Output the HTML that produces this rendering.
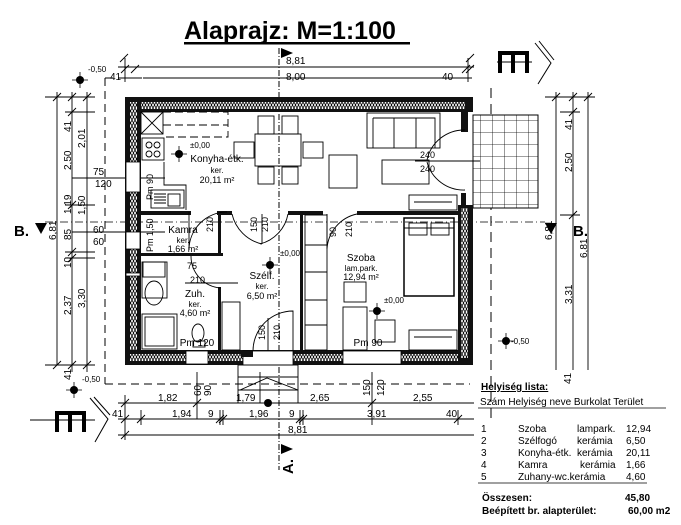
<!DOCTYPE html>
<html><head><meta charset="utf-8"><style>
html,body{margin:0;padding:0;background:#fff;width:681px;height:525px;overflow:hidden}
svg{display:block}
text{font-family:"Liberation Sans",sans-serif;fill:#000}
.s{font-size:10px}.xs{font-size:8px}
</style></head><body>
<svg width="681" height="525" viewBox="0 0 681 525" xmlns="http://www.w3.org/2000/svg">
<defs>
<pattern id="zz" width="6" height="6" patternUnits="userSpaceOnUse"><rect width="6" height="6" fill="#fff"/><path d="M0 0L3 6L6 0M0 6L3 0L6 6" stroke="#000" stroke-width="0.8" fill="none"/></pattern>
<pattern id="tile" width="12" height="12" patternUnits="userSpaceOnUse"><rect width="12" height="12" fill="#fff"/><path d="M0 0H12M0 0V12" stroke="#000" stroke-width="0.8"/></pattern>
</defs>
<text x="184" y="39" font-size="25" font-weight="bold">Alaprajz: M=1:100</text>
<rect x="184" y="42" width="226" height="2.5" fill="#000"/>
<path d="M279 48V470" stroke="#000" stroke-width="1" stroke-dasharray="6,2,1,2"/>
<path d="M281 48l12 5-12 5z" fill="#000"/>
<path d="M281 444l12 5-12 5z" fill="#000"/>
<text transform="translate(293 474) rotate(-90)" font-size="15" font-weight="bold">A.</text>
<path d="M45 222H545" stroke="#000" stroke-width="0.8" stroke-dasharray="8,3,1,3"/>
<text x="14" y="236" font-size="15" font-weight="bold">B.</text>
<path d="M35 223h12l-6 11z" fill="#000"/>
<path d="M557 223h-12l6 11z" fill="#000"/>
<text x="573" y="236" font-size="15" font-weight="bold">B.</text>
<path d="M105 78H472M105 78V384M105 384H470" stroke="#000" stroke-width="1" stroke-dasharray="8,5" fill="none"/>
<path d="M491 88V420" stroke="#000" stroke-width="1" stroke-dasharray="10,6"/>
<g stroke="#000" stroke-width="0.9" fill="none">
<path d="M118 67H474M118 78H142M143 78H472"/>
<path d="M120 62l8 -8M121 73l8-8M131 73l8-8M462 73l8-8M466 73l8-8M466 62l8-8" />
<path d="M125 58V82M468 58V82"/>
<path d="M57 92V365M72 92V372M87 92V372M45 97H95M45 365H95M65 112H95M65 205H95M65 252H95M65 258H95M72 178H165M72 232H165"/>
<path d="M53 101l8-8M68 101l8-8M83 101l8-8M68 116l8-8M68 209l8-8M68 256l8-8M68 262l8-8M53 369l8-8M68 369l8-8M83 369l8-8"/>
<path d="M556 92V370M573 92V370M588 92V370M545 97H595M560 112H580M560 215H580"/>
<path d="M552 101l8-8M569 101l8-8M584 101l8-8M569 116l8-8M569 219l8-8"/>
<path d="M118 403H474M118 419H474M118 435H474M125 395V440M141 410V425M220 410V425M223 410V425M300 410V425M303 410V425M372 395V425M458 410V425M197 372V419M260 372V403M372 372V419"/>
<path d="M121 407l8-8M121 423l8-8M137 423l8-8M193 407l8-8M216 423l8-8M219 423l8-8M296 423l8-8M299 423l8-8M368 407l8-8M454 423l8-8M121 439l8-8"/>
</g>
<g class="s">
<text x="286" y="64">8,81</text><text x="286" y="80">8,00</text>
<text x="110" y="80">41</text><text x="442" y="80">40</text>
<text x="158" y="401">1,82</text><text x="236" y="401">1,79</text><text x="310" y="401">2,65</text><text x="413" y="401">2,55</text>
<text x="112" y="417">41</text><text x="172" y="417">1,94</text><text x="208" y="417">9</text><text x="249" y="417">1,96</text><text x="289" y="417">9</text><text x="367" y="417">3,91</text><text x="446" y="417">40</text>
<text x="288" y="433">8,81</text>
<text x="93" y="175">75</text><text x="95" y="187">120</text><text x="93" y="233">60</text><text x="93" y="245">60</text>
</g>
<g class="s">
<text transform="translate(71 132) rotate(-90)">41</text>
<text transform="translate(71 170) rotate(-90)">2,50</text>
<text transform="translate(71 214) rotate(-90)">1,19</text>
<text transform="translate(71 240) rotate(-90)">85</text>
<text transform="translate(71 268) rotate(-90)">10</text>
<text transform="translate(71 315) rotate(-90)">2,37</text>
<text transform="translate(71 380) rotate(-90)">41</text>
<text transform="translate(85 148) rotate(-90)">2,01</text>
<text transform="translate(85 215) rotate(-90)">1,50</text>
<text transform="translate(85 308) rotate(-90)">3,30</text>
<text transform="translate(56 240) rotate(-90)">6,81</text>
<text transform="translate(572 130) rotate(-90)">41</text>
<text transform="translate(572 172) rotate(-90)">2,50</text>
<text transform="translate(552 240) rotate(-90)">6,81</text>
<text transform="translate(587 258) rotate(-90)">6,81</text>
<text transform="translate(572 304) rotate(-90)">3,31</text>
<text transform="translate(571 384) rotate(-90)">41</text>
<text transform="translate(201 396) rotate(-90)">60</text>
<text transform="translate(211 396) rotate(-90)">90</text>
<text transform="translate(370 396) rotate(-90)">150</text>
<text transform="translate(384 396) rotate(-90)">120</text>
</g>
<g class="xs">
<text x="88" y="72">-0,50</text><text x="82" y="382">-0,50</text><text x="511" y="344">-0,50</text>
<text x="190" y="148">±0,00</text><text x="280" y="256">±0,00</text><text x="384" y="303">±0,00</text>
</g>
<g fill="#000">
<circle cx="80" cy="80" r="4"/><circle cx="74" cy="390" r="4"/><circle cx="506" cy="341" r="4"/>
<circle cx="179" cy="154" r="4"/><circle cx="270" cy="265" r="4"/><circle cx="377" cy="311" r="4"/>
</g>
<path d="M72 80h16M80 72v16M66 390h16M74 382v16M498 341h16M506 333v16M171 154h16M179 146v16M262 265h16M270 257v16M369 311h16M377 303v16" stroke="#000" stroke-width="0.8"/>
<rect x="473" y="115" width="65" height="93" fill="url(#tile)" stroke="#000"/>
<rect x="125" y="97" width="348" height="15" fill="#111"/>
<rect x="130" y="102" width="335" height="7" fill="url(#zz)"/>
<rect x="125" y="97" width="16" height="268" fill="#111"/>
<rect x="130" y="102" width="7" height="260" fill="url(#zz)"/>
<rect x="125" y="350" width="348" height="15" fill="#111"/>
<rect x="130" y="354" width="335" height="7" fill="url(#zz)"/>
<rect x="458" y="205" width="15" height="160" fill="#111"/>
<rect x="461" y="208" width="7" height="150" fill="url(#zz)"/>
<rect x="461" y="112" width="7" height="20" fill="#111"/>
<rect x="461" y="193" width="5" height="15" fill="#111"/>
<g fill="#fff" stroke="#000" stroke-width="0.8">
<rect x="126" y="162" width="14" height="30"/>
<rect x="126" y="232" width="14" height="17"/>
<rect x="126" y="273" width="14" height="3"/>
<rect x="186" y="351" width="22" height="13"/>
<rect x="343" y="351" width="58" height="13"/>
<rect x="243" y="351" width="50" height="14"/>
</g>
<g fill="#111">
<rect x="141" y="211" width="50" height="4"/><rect x="217" y="211" width="15" height="4"/>
<rect x="288" y="211" width="35" height="4"/><rect x="357" y="211" width="101" height="4"/>
<rect x="141" y="253" width="82" height="3"/>
<rect x="218" y="211" width="3" height="45"/><rect x="218" y="287" width="3" height="63"/>
<rect x="300" y="211" width="3" height="139"/>
<rect x="241" y="351" width="12" height="6"/>
</g>
<g fill="none" stroke="#000" stroke-width="0.9">
<rect x="141" y="112" width="22" height="22"/><path d="M141 112l22 22M163 112l-22 22"/>
<path d="M163 112h65v25h-65M163 125h65" stroke-dasharray="8,4"/>
<rect x="142" y="138" width="22" height="22"/>
<circle cx="149" cy="145" r="3"/><circle cx="157" cy="145" r="3"/><circle cx="149" cy="154" r="3"/><circle cx="157" cy="154" r="3"/>
<path d="M164 162V185H186V210"/>
<rect x="151" y="190" width="33" height="18"/><path d="M154 194h12M154 197h12M154 200h12M154 203h12"/><rect x="168" y="194" width="12" height="12"/>
<rect x="255" y="134" width="46" height="32"/>
<rect x="258" y="116" width="16" height="18"/><rect x="282" y="116" width="16" height="18"/>
<rect x="258" y="167" width="16" height="17"/><rect x="282" y="167" width="16" height="17"/>
<rect x="234" y="142" width="20" height="16"/><rect x="303" y="142" width="20" height="16"/>
<rect x="367" y="113" width="73" height="35"/><path d="M373 118h62v30M373 118v30M394 118v30M416 118v30"/>
<rect x="382" y="160" width="47" height="24"/>
<rect x="329" y="155" width="28" height="33"/>
<rect x="409" y="195" width="48" height="15"/><path d="M414 202h38"/>
<rect x="404" y="218" width="50" height="78" stroke-width="1.5"/><path d="M404 228h50"/>
<rect x="409" y="223" width="18" height="12"/><rect x="431" y="223" width="18" height="12"/>
<rect x="344" y="282" width="22" height="20"/>
<rect x="343" y="307" width="24" height="43"/><rect x="375" y="320" width="20" height="22"/>
<rect x="409" y="330" width="48" height="20"/><path d="M414 337h38"/>
<rect x="142" y="262" width="25" height="36"/><ellipse cx="154" cy="293" rx="9" ry="12"/>
<rect x="142" y="314" width="35" height="35"/><rect x="145" y="317" width="29" height="29"/>
<rect x="143" y="262" width="22" height="15"/>
<ellipse cx="198" cy="333" rx="6" ry="9"/><rect x="193" y="341" width="12" height="6"/>
<rect x="222" y="302" width="18" height="48"/>
<rect x="305" y="215" width="22" height="135"/><path d="M305 245h22M305 272h22M305 300h22M305 325h22"/>
<path d="M189 212v38M189 250a38 38 0 0 1 38 -38" />
<path d="M232 214a40 40 0 0 0 30 30M262 214v30"/>
<path d="M288 214a38 38 0 0 1 -28 30"/>
<path d="M357 214a38 38 0 0 0 -30 35M327 214v35"/>
<path d="M191 256a32 32 0 0 0 30 32M185 283h53"/>
<path d="M253 351a40 40 0 0 1 40 -40v40M268 318v33"/>
<path d="M465 130a38 38 0 0 0 -38 30M465 190a38 38 0 0 1 -38 -28M415 161h65"/>
<rect x="238" y="365" width="60" height="38"/><path d="M238 377h60M238 390h60M240 390l27-12 31 12"/>
</g>
<circle cx="268" cy="403" r="4" fill="#000"/>
<g font-size="10" text-anchor="middle">
<text x="217" y="162">Konyha-étk.</text><text x="217" y="173" font-size="8">ker.</text><text x="217" y="183" font-size="9">20,11 m²</text>
<text x="183" y="233">Kamra</text><text x="183" y="243" font-size="8">ker.</text><text x="183" y="252" font-size="9">1,66 m²</text>
<text x="262" y="279">Szélf.</text><text x="262" y="289" font-size="8">ker.</text><text x="262" y="299" font-size="9">6,50 m²</text>
<text x="195" y="297">Zuh.</text><text x="195" y="307" font-size="8">ker.</text><text x="195" y="316" font-size="9">4,60 m²</text>
<text x="361" y="261">Szoba</text><text x="361" y="271" font-size="8">lam.park.</text><text x="361" y="280" font-size="9">12,94 m²</text>
<text x="197" y="346">Pm 120</text><text x="368" y="346">Pm 90</text>
</g>
<g font-size="9">
<text x="187" y="269">75</text><text x="190" y="283">210</text>
<text x="420" y="158">240</text><text x="420" y="172">240</text>
<text transform="translate(153 200) rotate(-90)">Pm 90</text>
<text transform="translate(153 252) rotate(-90)">Pm 1,50</text>
<text transform="translate(213 232) rotate(-90)">210</text>
<text transform="translate(257 232) rotate(-90)">150</text><text transform="translate(268 232) rotate(-90)">210</text>
<text transform="translate(336 237) rotate(-90)">90</text><text transform="translate(352 237) rotate(-90)">210</text>
<text transform="translate(265 340) rotate(-90)">150</text><text transform="translate(280 340) rotate(-90)">210</text>
</g>
<g stroke="#000" fill="none">
<path d="M497 62H532" stroke-width="1"/>
<path d="M500 73V53H527V73M513 53V73" stroke-width="4"/>
<path d="M535 43L551 63L538 84M539 41L554 60" stroke-width="1"/>
<path d="M30 420H95" stroke-width="1"/>
<path d="M57 432V413H84V432M70 413V432" stroke-width="4"/>
<path d="M90 398L108 419L95 442M94 397L110 415" stroke-width="1"/>
</g>
<g font-size="10">
<text x="481" y="390" font-weight="bold" text-decoration="underline">Helyiség  lista:</text>
<text x="480" y="405">Szám  Helyiség neve  Burkolat  Terület</text>
<path d="M478 408H666" stroke="#000" stroke-width="0.8"/>
<text x="481" y="432">1</text><text x="518" y="432">Szoba</text><text x="577" y="432">lampark.</text><text x="626" y="432">12,94</text>
<text x="481" y="444">2</text><text x="518" y="444">Szélfogó</text><text x="577" y="444">kerámia</text><text x="626" y="444">6,50</text>
<text x="481" y="456">3</text><text x="518" y="456">Konyha-étk.</text><text x="577" y="456">kerámia</text><text x="626" y="456">20,11</text>
<text x="481" y="468">4</text><text x="518" y="468">Kamra</text><text x="580" y="468">kerámia</text><text x="626" y="468">1,66</text>
<text x="481" y="480">5</text><text x="518" y="480">Zuhany-wc.kerámia</text><text x="626" y="480">4,60</text>
<path d="M478 483H647" stroke="#000" stroke-width="0.8"/>
<text x="482" y="501" font-weight="bold">Összesen:</text><text x="625" y="501" font-weight="bold">45,80</text>
<text x="482" y="514" font-weight="bold">Beépített br. alapterület:</text><text x="628" y="514" font-weight="bold">60,00 m2</text>
</g>
</svg>
</body></html>
